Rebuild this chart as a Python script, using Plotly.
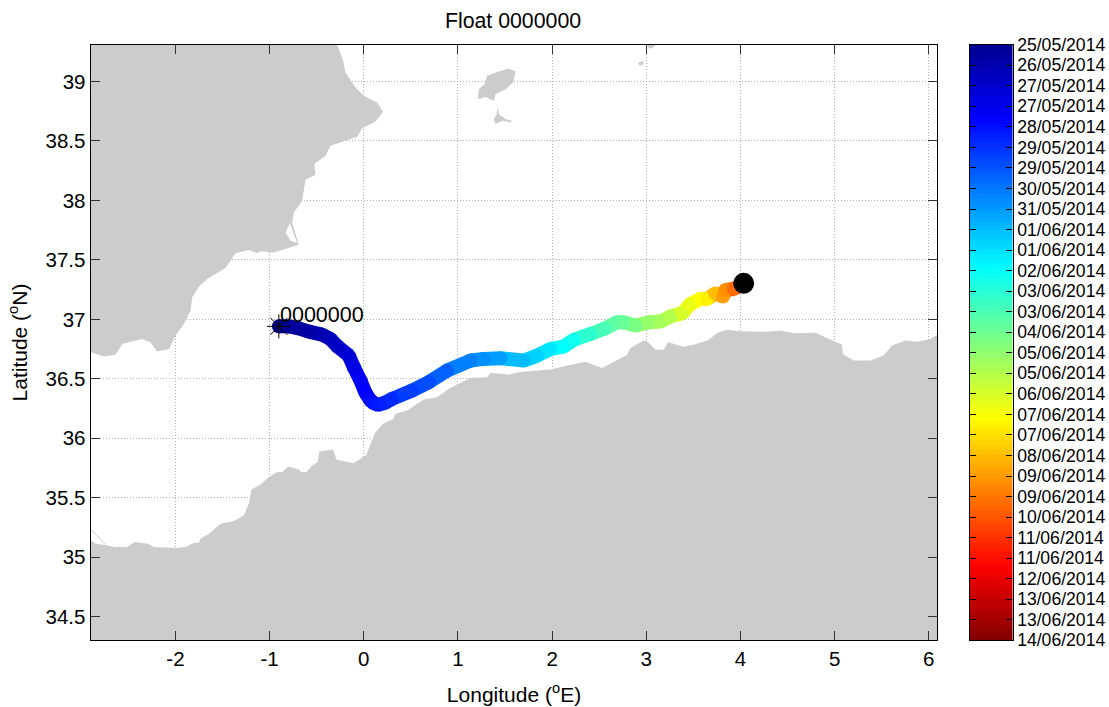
import numpy as np
import plotly.graph_objects as go
from plotly.colors import sample_colorscale

W, H = 1109, 707

# Map: north coast (lon, lat)
north_lon = [-0.283,-0.219,-0.195,-0.088,0,0.142,0.205,0.124,-0.018,-0.071,-0.354,-0.407,-0.524,-0.513,-0.619,-0.655,-0.743,-0.761,-0.701,-0.69,-0.955,-1.097,-1.132,-1.221,-1.362,-1.468,-1.663,-1.751,-1.822,-1.84,-1.911,-1.999,-2.07,-2.194,-2.265,-2.353,-2.424,-2.565,-2.636,-2.76,-2.894,-2.9,-2.9]
north_lat = [39.31,39.174,39.076,38.95,38.88,38.824,38.745,38.664,38.608,38.535,38.46,38.376,38.306,38.216,38.174,37.997,37.899,37.815,37.656,37.628,37.563,37.572,37.555,37.583,37.555,37.432,37.339,37.275,37.185,37.073,36.961,36.863,36.751,36.729,36.807,36.835,36.821,36.793,36.703,36.687,36.723,36.72,39.31]
lagoon_lon = [-0.785,-0.831,-0.778,-0.708,-0.743]
lagoon_lat = [37.81,37.731,37.661,37.642,37.717]

# South coast
south_lon = [-2.9,-2.894,-2.848,-2.76,-2.654,-2.512,-2.434,-2.293,-2.229,-1.999,-1.893,-1.805,-1.751,-1.734,-1.645,-1.521,-1.38,-1.274,-1.221,-1.192,-1.097,-1.008,-0.92,-0.867,-0.803,-0.69,-0.665,-0.609,-0.548,-0.488,-0.474,-0.389,-0.325,-0.29,-0.195,-0.113,-0.035,0.028,0.071,0.124,0.205,0.319,0.336,0.46,0.637,0.779,0.902,1.026,1.132,1.309,1.345,1.539,1.681,1.982,2.105,2.353,2.53,2.795,2.831,2.972,3.015,3.096,3.185,3.231,3.397,3.503,3.662,3.751,3.857,3.998,4.282,4.423,4.565,4.795,5.078,5.088,5.202,5.379,5.52,5.609,5.75,5.874,6.016,6.086,6.1,6.1,-2.9]
south_lat = [35.14,35.14,35.112,35.104,35.084,35.084,35.126,35.112,35.084,35.076,35.084,35.118,35.121,35.154,35.196,35.28,35.303,35.35,35.449,35.569,35.611,35.673,35.715,35.715,35.762,35.737,35.715,35.715,35.771,35.799,35.888,35.897,35.905,35.818,35.804,35.79,35.827,35.86,35.953,36.051,36.121,36.163,36.205,36.233,36.325,36.345,36.415,36.463,36.507,36.513,36.549,36.535,36.56,36.577,36.602,36.644,36.591,36.70,36.759,36.821,36.812,36.745,36.745,36.807,36.77,36.787,36.826,36.885,36.913,36.899,36.896,36.905,36.882,36.888,36.787,36.709,36.653,36.653,36.695,36.779,36.821,36.812,36.835,36.871,36.88,34.3,34.3]
sliver_lon = [-2.894,-2.742]
sliver_lat = [35.23,35.104]

# Islands
ibiza_lon = [1.211,1.222,1.282,1.31,1.416,1.54,1.611,1.586,1.505,1.399,1.381,1.292]
ibiza_lat = [38.852,38.936,38.978,39.048,39.081,39.11,39.084,38.992,38.936,38.894,38.838,38.871]
formentera_lon = [1.423,1.434,1.505,1.575,1.558,1.469,1.399,1.381,1.409]
formentera_lat = [38.787,38.726,38.684,38.67,38.656,38.67,38.642,38.684,38.72]
islet_lon = [2.91,2.973,2.966,2.931]
islet_lat = [39.154,39.174,39.14,39.132]
mallorca_lon = [3.009,3.097,3.062,3.026]
mallorca_lat = [39.31,39.31,39.278,39.28]

# Float track, colour value = days since 25/05/2014
track_lon = [-0.902,-0.796,-0.69,-0.584,-0.442,-0.354,-0.282,-0.159,-0.106,-0.035,0.018,0.071,0.11,0.153,0.22,0.301,0.514,0.69,0.885,1.133,1.274,1.451,1.699,1.841,1.982,2.123,2.229,2.407,2.548,2.69,2.76,2.884,3.025,3.15,3.256,3.38,3.468,3.574,3.645,3.733,3.815,3.84,3.928,4.034]
track_lat = [36.941,36.941,36.924,36.897,36.871,36.835,36.773,36.695,36.597,36.485,36.382,36.317,36.293,36.281,36.296,36.331,36.401,36.471,36.569,36.653,36.667,36.672,36.653,36.695,36.751,36.771,36.827,36.877,36.919,36.975,36.975,36.947,36.975,36.981,37.023,37.05,37.129,37.171,37.171,37.218,37.191,37.247,37.255,37.303]
track_day = [0,0.2,0.35,0.5,0.75,0.95,1.15,1.6,1.9,2.2,2.5,2.7,2.85,3.0,3.15,3.3,3.7,4.0,4.4,5.0,5.3,5.6,6.2,6.6,7.0,7.5,7.8,8.4,8.9,9.3,9.5,9.9,10.4,10.7,11.0,11.7,12.1,12.5,12.8,13.8,14.4,14.7,15.4,16.2]

float_id = "0000000"
x_ticks = [-2,-1,0,1,2,3,4,5,6]
x_tick_text = ["-2","-1","0","1","2","3","4","5","6"]
y_ticks = [34.5,35,35.5,36,36.5,37,37.5,38,38.5,39]
y_tick_text = ["34.5","35","35.5","36","36.5","37","37.5","38","38.5","39"]
date_labels = ["25/05/2014","26/05/2014","27/05/2014","27/05/2014","28/05/2014","29/05/2014","29/05/2014","30/05/2014","31/05/2014","01/06/2014","01/06/2014","02/06/2014","03/06/2014","03/06/2014","04/06/2014","05/06/2014","05/06/2014","06/06/2014","07/06/2014","07/06/2014","08/06/2014","09/06/2014","09/06/2014","10/06/2014","11/06/2014","11/06/2014","12/06/2014","13/06/2014","13/06/2014","14/06/2014"]

DAY_MAX = 20
jet = [[0,"#00008f"],[0.125,"#0000ff"],[0.375,"#00ffff"],[0.625,"#ffff00"],[0.875,"#ff0000"],[1,"#800000"]]
LAND = "#cccccc"

fig = go.Figure()

def land(lons, lats, color=LAND):
    fig.add_trace(go.Scatter(x=lons, y=lats, mode="lines", fill="toself", fillcolor=color,
                             line=dict(width=0, color=color), hoverinfo="skip"))

land(north_lon, north_lat)
land(lagoon_lon, lagoon_lat, "#ffffff")
land(south_lon, south_lat)
land(ibiza_lon, ibiza_lat)
land(formentera_lon, formentera_lat)
land(islet_lon, islet_lat)
land(mallorca_lon, mallorca_lat)
fig.add_trace(go.Scatter(x=sliver_lon, y=sliver_lat, mode="lines", line=dict(width=1, color=LAND), hoverinfo="skip"))

# Track: coloured segments between the read points, round markers on top
seg_colors = sample_colorscale(jet, [d / DAY_MAX for d in track_day])
for i in range(len(track_lon) - 1):
    fig.add_trace(go.Scatter(x=track_lon[i:i+2], y=track_lat[i:i+2], mode="lines",
                             line=dict(width=14, color=seg_colors[i+1]), hoverinfo="skip"))
fig.add_trace(go.Scatter(x=track_lon, y=track_lat, mode="markers",
                         marker=dict(size=14, color=track_day, cmin=0, cmax=DAY_MAX,
                                     colorscale=jet, line=dict(width=0), showscale=False)))

# Start and end markers
fig.add_trace(go.Scatter(x=track_lon[:1], y=track_lat[:1], mode="markers",
                         marker=dict(symbol="asterisk", size=20, color="black",
                                     line=dict(width=1, color="black"))))
fig.add_trace(go.Scatter(x=track_lon[-1:], y=track_lat[-1:], mode="markers",
                         marker=dict(size=21, color="black", line=dict(width=0))))

# Colour bar panel
levels = np.linspace(0, DAY_MAX, 129)
centres = (levels[:-1] + levels[1:]) / 2
fig.add_trace(go.Heatmap(x=[0, 1], y=centres, z=[[c, c] for c in centres], xaxis="x2", yaxis="y2",
                         zmin=0, zmax=DAY_MAX, colorscale=jet, showscale=False, hoverinfo="skip"))

fig.add_annotation(x=track_lon[0], y=37.04, text=float_id, showarrow=False, xanchor="left", yanchor="middle",
                   font=dict(size=21.5, color="black"), xshift=-1)

axis_font = dict(family="Liberation Sans, Arial", size=20.5, color="black")
common = dict(showline=True, linecolor="black", linewidth=1.3, mirror="allticks", ticks="inside", ticklen=9,
              tickwidth=1, tickcolor="#333333", showgrid=True, gridcolor="#b0b0b0", griddash="1px,2px", gridwidth=1,
              zeroline=False, tickfont=axis_font)

TOP, BOTTOM = 44.7, 640.3

fig.update_layout(
    width=W, height=H, autosize=False, margin=dict(l=0, r=0, t=0, b=0, autoexpand=False),
    paper_bgcolor="white", plot_bgcolor="white", showlegend=False, hovermode=False,
    font=dict(family="Liberation Sans, Arial", color="black"),
    title=dict(text=f"Float {float_id}", x=513/W, xref="paper", xanchor="center", y=1-21/H, yref="container",
               yanchor="middle", font=dict(size=21.3, color="black")),
    xaxis=dict(domain=[90.7/W, 937.3/W], range=[-2.9, 6.09], tickvals=x_ticks, ticktext=x_tick_text, anchor="y",
               title=dict(text="Longitude (<sup>o</sup>E)", standoff=18, font=dict(size=21)), **common),
    yaxis=dict(domain=[1-BOTTOM/H, 1-TOP/H], range=[34.3, 39.31], tickvals=y_ticks, ticktext=y_tick_text, anchor="x",
               title=dict(text="Latitude (<sup>o</sup>N)", standoff=12, font=dict(size=21)), **common),
    xaxis2=dict(domain=[969.5/W, 1012.5/W], range=[0, 1], anchor="y2", showticklabels=False, ticks="",
                showgrid=False, zeroline=False, showline=True, linecolor="black", linewidth=1.3, mirror=True),
    yaxis2=dict(domain=[1-BOTTOM/H, 1-TOP/H], range=[DAY_MAX, 0], anchor="x2", side="right",
                tickvals=list(np.linspace(0, DAY_MAX, len(date_labels))), ticktext=date_labels,
                ticks="inside", ticklen=6, tickwidth=1, tickcolor="black", mirror="allticks", showline=True,
                linecolor="black", linewidth=1.3, showgrid=False, zeroline=False,
                tickfont=dict(family="Liberation Sans, Arial", size=17.6, color="black")),
)

fig.write_html("out.html", config={"displayModeBar": False},
               post_script="document.body.style.margin='0';document.body.style.overflow='hidden';")
